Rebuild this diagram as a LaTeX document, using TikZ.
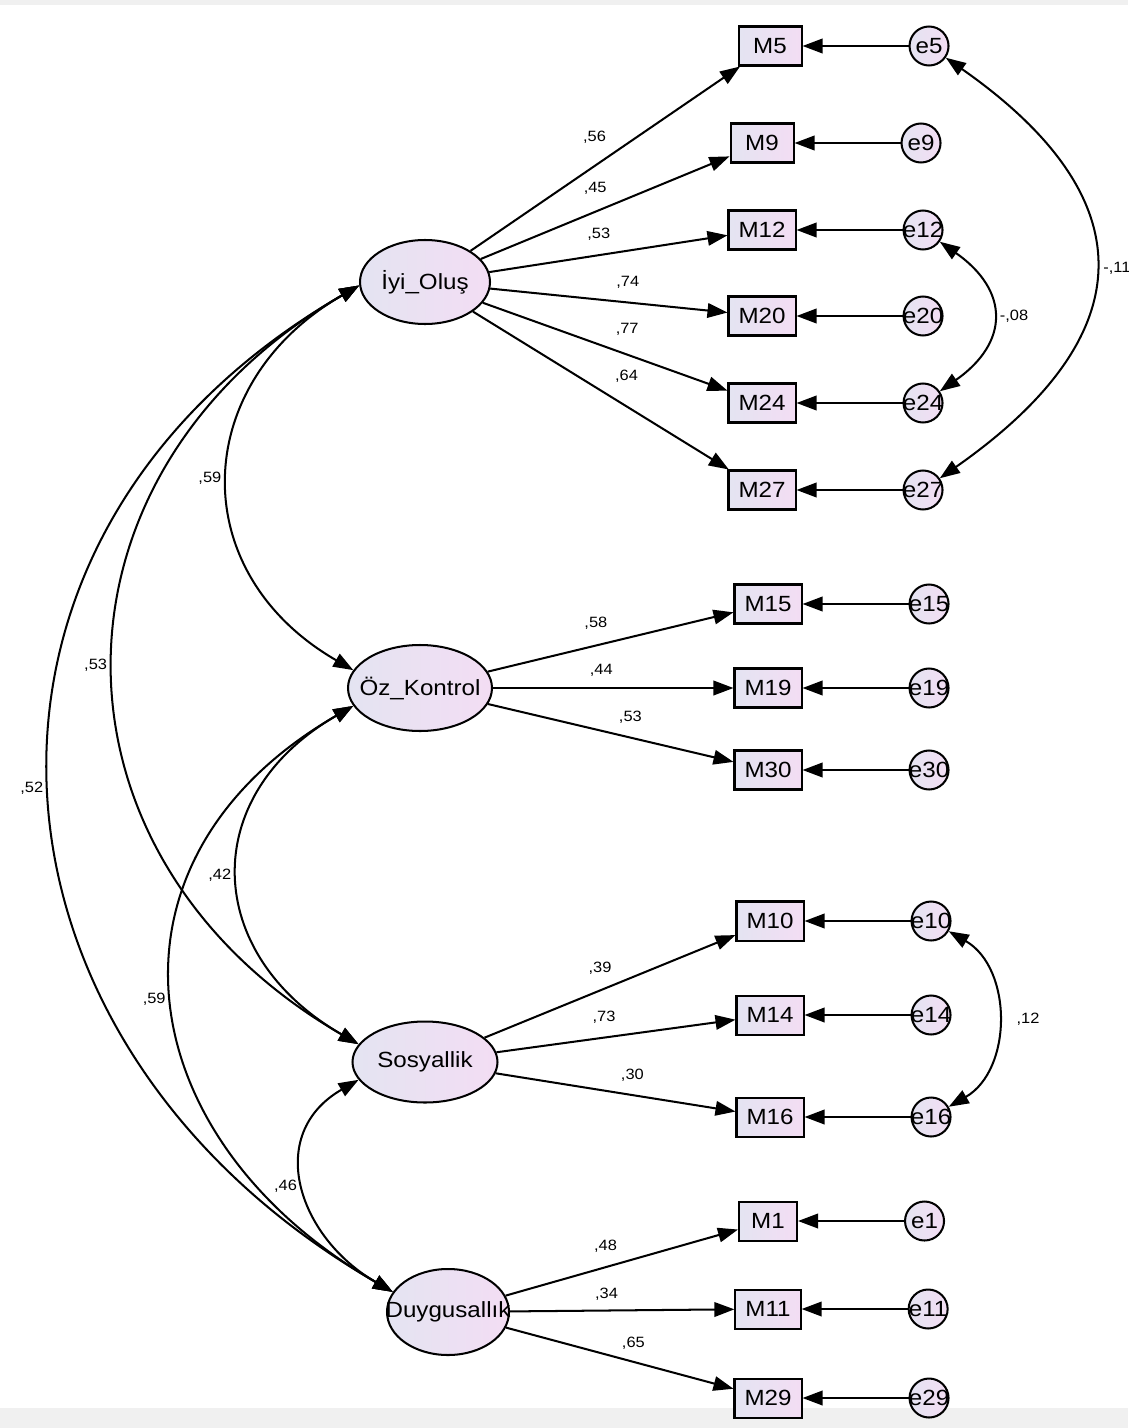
\documentclass[tikz,border=0pt]{standalone}
\usepackage{fontspec}
\setmainfont{Liberation Sans}[FakeStretch=1.1]
\usetikzlibrary{positioning}
\usetikzlibrary{shapes.geometric}
\usetikzlibrary{arrows.meta}
\definecolor{lavl}{RGB}{228,228,242}
\definecolor{lavr}{RGB}{243,221,243}
\definecolor{band}{RGB}{240,240,240}
\newcommand{\zw}[1]{\makebox[0pt]{#1}}

\begin{document}
\begin{tikzpicture}[x=0.2mm,y=0.2mm,node distance=21.2mm,line width=1.15pt,
		>={Triangle[length=4mm,width=2.9mm]},
		latent/.style={ellipse,draw=black,left color=lavl,right color=lavr,inner sep=0pt,font=\fontsize{12.5}{14}\selectfont},
		obs/.style={rectangle,draw=black,left color=lavl,right color=lavr,minimum width=12.6mm,minimum height=7.8mm,inner xsep=2mm,inner ysep=0pt,font=\fontsize{12.5}{14}\selectfont},
		err/.style={circle,draw=black,left color=lavl,right color=lavr,minimum size=7.8mm,inner sep=0pt,font=\fontsize{12.5}{14}\selectfont},
		lbl/.style={font=\fontsize{8.5}{10}\selectfont,inner sep=1pt},
		cov/.style={<->,out=210,in=150,looseness=1.3}]
		\useasboundingbox (0,0) rectangle (1128,-1428);
		\fill[band] (0,0) rectangle (1128,-5);
		\fill[band] (0,-1408) rectangle (1128,-1428);
		
		% latent variables
		\node[latent,minimum width=26mm,minimum height=16.8mm]   (iyi) at (425,-282)  {\zw{İyi\_Oluş}};
		\node[latent,minimum width=28.8mm,minimum height=17.2mm] (oz)  at (420,-688)  {\zw{Öz\_Kontrol}};
		\node[latent,minimum width=29mm,minimum height=16.2mm]   (sos) at (425,-1062) {\zw{Sosyallik}};
		\node[latent,minimum width=24.4mm,minimum height=17.2mm] (duy) at (448,-1312) {\zw{Duygusallık}};
		
		% items
		\node[obs] (m5)  at (770,-46)  {M5};
		\node[obs] (m9)  at (762,-143) {M9};
		\node[obs] (m12) at (762,-230) {M12};
		\node[obs] (m20) at (762,-316) {M20};
		\node[obs] (m24) at (762,-403) {M24};
		\node[obs] (m27) at (762,-490) {M27};
		\node[obs] (m15) at (768,-604) {M15};
		\node[obs] (m19) at (768,-688) {M19};
		\node[obs] (m30) at (768,-770) {M30};
		\node[obs] (m10) at (770,-921) {M10};
		\node[obs] (m14) at (770,-1015) {M14};
		\node[obs] (m16) at (770,-1117) {M16};
		\node[obs,minimum width=11.6mm] (m1)  at (768,-1221) {M1};
		\node[obs,minimum width=11.6mm] (m11) at (768,-1309) {M11};
		\node[obs,minimum width=11.6mm] (m29) at (768,-1398) {M29};
		
		% errors
		\node[err] (e5)  [right=of m5]  {\zw{e5}};
		\node[err] (e9)  [right=of m9]  {\zw{e9}};
		\node[err] (e12) [right=of m12] {\zw{e12}};
		\node[err] (e20) [right=of m20] {\zw{e20}};
		\node[err] (e24) [right=of m24] {\zw{e24}};
		\node[err] (e27) [right=of m27] {\zw{e27}};
		\node[err] (e15) [right=of m15] {\zw{e15}};
		\node[err] (e19) [right=of m19] {\zw{e19}};
		\node[err] (e30) [right=of m30] {\zw{e30}};
		\node[err] (e10) [right=of m10] {\zw{e10}};
		\node[err] (e14) [right=of m14] {\zw{e14}};
		\node[err] (e16) [right=of m16] {\zw{e16}};
		\node[err] (e1)  [right=of m1]  {\zw{e1}};
		\node[err] (e11) [right=of m11] {\zw{e11}};
		\node[err] (e29) [right=of m29] {\zw{e29}};
		
		% loadings
		\path[->]
		(iyi) edge node[lbl,pos=.46,above=4mm]   {,56} (m5)
		(iyi) edge node[lbl,pos=.46,above=2.9mm] {,45} (m9)
		(iyi) edge node[lbl,pos=.46,above=2.3mm] {,53} (m12)
		(iyi) edge node[lbl,pos=.58,above=2.2mm] {,74} (m20)
		(iyi) edge node[lbl,pos=.59,above=3.2mm] {,77} (m24)
		(iyi) edge node[lbl,pos=.60,above=4.3mm] {,64} (m27)
		(oz)  edge node[lbl,pos=.44,above=2.7mm] {,58} (m15)
		(oz)  edge node[lbl,pos=.45,above=1.8mm] {,44} (m19)
		(oz)  edge node[lbl,pos=.58,above=2.3mm] {,53} (m30)
		(sos) edge node[lbl,pos=.46,above=2.7mm] {,39} (m10)
		(sos) edge node[lbl,pos=.45,above=2.2mm] {,73} (m14)
		(sos) edge node[lbl,pos=.57,above=2.2mm] {,30} (m16)
		(duy) edge node[lbl,pos=.43,above=2.4mm] {,48} (m1)
		(duy) edge node[lbl,pos=.43,above=1.5mm] {,34} (m11)
		(duy) edge node[lbl,pos=.56,above=1.9mm] {,65} (m29);
		
		\path[->]
		(e5) edge (m5)   (e9) edge (m9)   (e12) edge (m12)
		(e20) edge (m20) (e24) edge (m24) (e27) edge (m27)
		(e15) edge (m15) (e19) edge (m19) (e30) edge (m30)
		(e10) edge (m10) (e14) edge (m14) (e16) edge (m16)
		(e1) edge (m1)   (e11) edge (m11) (e29) edge (m29);
		
		% error covariances
		\path[<->]
		(e5) edge[out=-35,in=35,looseness=1.5] node[lbl,right=1.2mm] {-,11} (e27)
		(e12) edge[out=-35,in=35,looseness=1.46] node[lbl,right=1mm] {-,08} (e24)
		(e10) edge[out=-30,in=30,looseness=1.08] node[lbl,right=3.4mm] {,12} (e16);
		
		% factor covariances
		\path
		(iyi.183) edge[cov] node[lbl,left=1mm] {,59} (oz.165)
		(iyi.183) edge[cov,looseness=1.27] node[lbl,left=1mm] {,53} (sos.165)
		(iyi.183) edge[cov,looseness=1.27] node[lbl,left=1mm] {,52} (duy.160)
		(oz.195)  edge[cov,looseness=1.36] node[lbl,left=1mm] {,42} (sos.165)
		(oz.195)  edge[cov,looseness=1.34] node[lbl,left=1mm] {,59} (duy.160)
		(sos.195) edge[cov] node[lbl,left=1mm] {,46} (duy.160);
\end{tikzpicture}
\end{document}
